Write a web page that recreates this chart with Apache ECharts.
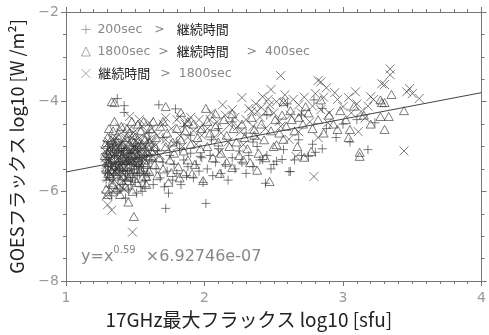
<!DOCTYPE html>
<html>
<head>
<meta charset="utf-8">
<script src="https://cdn.jsdelivr.net/npm/echarts@6/dist/echarts.min.js"></script>
<style>
  html, body { margin: 0; padding: 0; background: #fff; }
  #chart { width: 489px; height: 335px; }
</style>
</head>
<body>
<div id="chart"></div>
<script>
// duration < 200 sec
var plusPts = [
  [1.37,-3.93],[1.42,-4.09],[1.42,-4.24],[1.67,-4.07],[1.79,-4.16],[1.51,-6.04],[1.72,-6.38],[1.74,-6.04],
  [2.01,-6.27],[2.44,-5.82],[2.62,-5.56],[3.18,-5.07],[2.79,-3.96],
  [1.29,-5.3],[1.30,-5.6],[1.31,-5.9],[1.32,-5.1],[1.33,-5.45],[1.34,-5.75],[1.35,-5.2],[1.36,-5.5],
  [1.37,-6.0],[1.38,-5.35],[1.39,-5.65],[1.40,-5.05],[1.41,-5.85],[1.42,-5.4],[1.43,-5.6],[1.44,-5.25],
  [1.45,-5.95],[1.46,-5.5],[1.47,-5.15],[1.48,-5.7],[1.49,-5.35],[1.50,-5.8],[1.51,-5.45],[1.52,-5.1],
  [1.53,-5.6],[1.54,-5.9],[1.55,-5.3],[1.56,-5.55],[1.57,-5.75],[1.58,-5.2],[1.59,-5.45],[1.60,-5.65],
  [1.30,-5.0],[1.33,-6.1],[1.36,-4.9],[1.39,-5.95],[1.43,-6.15],[1.47,-5.85],[1.50,-5.0],[1.55,-6.0],
  [1.29,-5.75],[1.31,-5.25],[1.34,-4.95],[1.38,-5.1],[1.41,-5.55],[1.45,-5.3],[1.49,-5.6],[1.53,-5.25],
  [1.285,-5.55],[1.295,-5.15],[1.305,-5.45],[1.315,-5.7],[1.325,-5.35],[1.335,-5.05],[1.345,-5.6],[1.355,-5.4],
  [1.365,-5.15],[1.375,-5.7],[1.385,-5.5],[1.395,-5.2],[1.405,-5.4],[1.415,-5.1],[1.425,-5.75],[1.435,-5.35],
  [1.445,-5.55],[1.455,-5.15],[1.465,-5.75],[1.475,-5.4],[1.485,-5.05],[1.495,-5.5],[1.505,-5.25],[1.515,-5.65],
  [1.525,-5.4],[1.535,-5.05],[1.545,-5.45],[1.565,-5.2],[1.585,-5.6],[1.605,-5.3],
  [1.57,-5.9],[1.62,-5.3],[1.63,-5.85],[1.65,-5.5],[1.66,-5.1],[1.68,-5.7],[1.70,-5.35],[1.71,-5.9],
  [1.73,-5.55],[1.75,-5.2],[1.77,-5.75],[1.78,-5.4],[1.80,-5.6],[1.82,-5.05],[1.83,-5.85],[1.85,-5.3],
  [1.87,-5.65],[1.88,-5.45],[1.90,-5.15],[1.92,-5.7],[1.94,-5.4],[1.96,-5.55],[1.98,-5.25],[1.99,-5.8],
  [1.70,-4.8],[1.80,-4.9],[1.90,-4.75],[1.85,-4.55],[1.60,-4.7],[1.97,-5.22],
  [2.02,-5.5],[2.04,-5.2],[2.06,-5.65],[2.08,-5.35],[2.10,-5.05],[2.12,-5.6],[2.15,-5.4],[2.17,-5.75],
  [2.20,-5.25],[2.22,-5.5],[2.25,-5.1],[2.27,-5.35],[2.30,-5.6],[2.32,-5.2],[2.35,-5.45],[2.38,-5.0],
  [2.40,-5.3],[2.42,-5.29],[2.45,-5.2],[2.48,-5.5],[2.50,-5.4],[2.52,-5.33],[2.56,-5.29],[2.57,-5.07],
  [2.10,-4.6],[2.20,-4.45],[2.30,-4.7],[2.45,-4.3],[2.35,-4.9],[2.05,-4.85],
  [2.61,-5.56],[2.65,-5.3],[2.68,-4.85],[2.70,-5.2],[2.75,-5.22],[2.80,-5.13],[2.78,-4.95],[2.85,-5.05],
  [2.88,-4.6],[2.95,-4.8],[3.00,-4.5],[3.05,-4.9],[3.10,-4.4],[3.23,-4.47],[2.70,-4.3],[2.85,-4.15],[2.60,-4.05]
];

// 400 sec < duration < 1800 sec
var triPts = [
  [1.33,-4.0],[1.35,-4.02],[1.72,-4.11],[1.30,-6.07],[1.39,-6.07],[1.45,-6.24],[1.49,-6.56],[1.99,-5.76],
  [2.47,-5.78],[3.12,-5.13],[3.12,-5.22],[3.35,-3.84],[3.27,-3.96],[3.28,-4.02],[3.30,-4.02],[3.44,-4.2],
  [3.27,-4.33],[3.33,-4.33],[3.30,-4.62],[2.84,-3.96],[2.57,-4.0],[2.73,-4.11],[2.63,-4.4],[2.96,-4.62],
  [3.04,-4.8],[3.05,-4.62],[2.50,-5.0],[2.67,-5.0],[2.77,-5.11],[2.72,-5.24],[2.36,-4.62],[2.52,-4.96],[2.57,-4.84],
  [1.35,-4.44],[1.475,-4.44],[1.56,-4.44],[1.63,-4.44],[1.70,-4.44],[1.88,-4.44],[2.02,-4.44],[1.83,-4.24],
  [2.01,-4.15],[2.08,-4.27],[2.20,-4.27],
  [2.20,-5.47],[2.38,-5.53],[2.33,-5.36],[2.11,-5.6],[1.85,-5.6],[1.76,-5.58],[1.58,-5.67],[1.45,-5.69],
  [1.28,-5.2],[1.29,-5.5],[1.30,-4.8],[1.31,-5.35],[1.32,-5.65],[1.33,-5.0],[1.34,-5.85],[1.35,-5.25],
  [1.36,-5.55],[1.37,-4.75],[1.38,-5.15],[1.39,-5.45],[1.40,-5.75],[1.41,-4.95],[1.42,-5.3],[1.43,-5.9],
  [1.44,-5.05],[1.45,-5.45],[1.46,-4.7],[1.47,-5.6],[1.48,-5.2],[1.49,-4.9],[1.50,-5.5],[1.51,-5.8],
  [1.52,-5.0],[1.53,-5.35],[1.54,-4.65],[1.55,-5.7],[1.56,-5.15],[1.57,-4.85],[1.58,-5.4],[1.59,-5.0],
  [1.60,-5.55],[1.61,-4.6],[1.29,-5.95],[1.31,-4.6],[1.34,-4.65],[1.36,-5.95],[1.40,-4.55],[1.44,-4.6],
  [1.48,-6.0],[1.52,-4.5],[1.30,-5.15],[1.33,-5.55],[1.37,-5.35],[1.41,-5.65],[1.46,-5.25],[1.50,-5.15],
  [1.54,-5.5],[1.58,-5.85],
  [1.285,-4.95],[1.295,-5.35],[1.305,-5.6],[1.315,-5.1],[1.325,-4.85],[1.335,-5.3],[1.345,-5.45],[1.355,-5.05],
  [1.365,-4.9],[1.375,-5.5],[1.385,-5.3],[1.395,-5.0],[1.405,-5.25],[1.415,-5.45],[1.425,-5.1],[1.435,-4.8],
  [1.445,-5.3],[1.455,-5.55],[1.465,-5.0],[1.475,-5.3],[1.485,-4.75],[1.495,-5.05],[1.505,-5.35],[1.515,-4.85],
  [1.525,-5.25],[1.535,-5.55],[1.545,-4.95],[1.565,-5.3],[1.585,-5.1],[1.605,-4.9],[1.625,-5.25],[1.645,-5.0],
  [1.62,-5.1],[1.64,-5.4],[1.65,-4.8],[1.67,-5.25],[1.68,-4.55],[1.70,-5.5],[1.72,-5.0],[1.73,-4.7],
  [1.75,-5.3],[1.77,-4.9],[1.78,-5.15],[1.80,-4.6],[1.81,-5.45],[1.83,-4.85],[1.85,-5.1],[1.86,-4.65],
  [1.88,-5.3],[1.90,-4.95],[1.92,-4.5],[1.93,-5.4],[1.95,-4.8],[1.97,-5.05],[1.98,-4.6],[1.66,-5.65],
  [1.74,-5.8],[1.82,-5.7],[1.91,-5.6],
  [2.02,-5.0],[2.04,-4.7],[2.06,-5.25],[2.08,-4.55],[2.10,-4.9],[2.12,-5.15],[2.14,-4.4],[2.16,-4.75],
  [2.18,-5.0],[2.21,-4.6],[2.23,-4.9],[2.25,-5.2],[2.27,-4.5],[2.29,-4.8],[2.31,-5.05],[2.34,-4.35],
  [2.36,-4.75],[2.39,-5.15],[2.41,-4.5],[2.43,-4.85],[2.46,-4.2],[2.48,-4.65],[2.51,-4.4],[2.54,-4.7],
  [2.56,-4.3],[2.59,-4.55],[2.16,-5.35],[2.28,-5.3],[2.44,-5.25],
  [2.62,-4.2],[2.65,-4.65],[2.68,-4.35],[2.71,-4.5],[2.75,-4.25],[2.78,-4.6],[2.82,-4.4],[2.86,-4.7],
  [2.90,-4.3],[2.93,-4.5],[2.98,-4.2],[3.02,-4.4],[3.08,-4.1],[3.15,-4.3],[3.20,-4.5]
];

// duration > 1800 sec
var crossPts = [
  [1.33,-6.42],[1.48,-6.91],[2.79,-5.67],[3.44,-5.1],
  [2.27,-3.91],[2.13,-4.07],[2.20,-4.18],[2.34,-4.22],[2.41,-4.13],[2.47,-4.07],[2.18,-4.51],[2.26,-4.67],
  [2.04,-4.4],[1.97,-4.58],[2.54,-4.44],[2.38,-4.78],[2.11,-5.13],[2.28,-4.96],
  [2.38,-4.22],[2.42,-3.89],[2.48,-3.73],[2.55,-3.42],[2.57,-4.02],[2.68,-4.07],[2.82,-3.53],[2.84,-3.56],
  [2.80,-3.82],[2.88,-3.69],[2.94,-3.8],[2.84,-4.18],[2.89,-4.47],[3.00,-4.11],[3.04,-3.91],[3.09,-3.78],
  [3.13,-4.22],[3.16,-4.36],[3.11,-4.67],[2.82,-4.8],[2.68,-4.67],[2.61,-4.84],[2.66,-5.22],[3.20,-3.89],
  [3.34,-3.27],[3.34,-3.4],[3.28,-3.6],[3.30,-3.62],[3.48,-3.71],[3.50,-3.82],[3.55,-3.93],[3.46,-3.78],
  [1.46,-4.33],[1.53,-4.4],[1.60,-4.47],[1.72,-4.36],[1.82,-4.33],[1.88,-4.44],[1.39,-4.58],
  [1.28,-5.1],[1.29,-5.4],[1.30,-5.7],[1.31,-4.9],[1.32,-5.25],[1.33,-5.8],[1.34,-5.05],[1.35,-5.4],
  [1.36,-4.8],[1.37,-5.6],[1.38,-5.0],[1.39,-5.3],[1.40,-4.7],[1.41,-5.15],[1.42,-5.5],[1.43,-4.85],
  [1.44,-5.7],[1.45,-5.1],[1.46,-4.6],[1.47,-5.35],[1.48,-4.95],[1.49,-5.2],[1.50,-4.65],[1.51,-5.05],
  [1.52,-5.45],[1.53,-4.8],[1.54,-5.2],[1.55,-4.55],[1.56,-4.95],[1.57,-5.3],[1.58,-4.7],[1.59,-5.1],
  [1.60,-4.85],[1.29,-6.1],[1.31,-5.55],[1.34,-6.0],[1.38,-5.85],[1.42,-5.95],[1.30,-6.3],
  [1.285,-5.25],[1.295,-4.95],[1.305,-5.3],[1.315,-5.45],[1.325,-5.0],[1.335,-5.2],[1.345,-4.85],[1.355,-5.55],
  [1.365,-5.2],[1.375,-4.95],[1.385,-5.45],[1.395,-5.1],[1.405,-4.9],[1.415,-5.3],[1.425,-5.0],[1.435,-5.2],
  [1.445,-4.9],[1.455,-5.35],[1.465,-5.1],[1.475,-4.8],[1.485,-5.3],[1.495,-5.0],[1.505,-5.2],[1.515,-4.9],
  [1.525,-5.1],[1.545,-5.3],[1.565,-5.0],[1.585,-4.85],[1.605,-5.15],[1.625,-4.9],[1.645,-5.15],
  [1.62,-4.6],[1.64,-5.0],[1.66,-4.75],[1.68,-5.2],[1.70,-4.5],[1.72,-4.85],[1.74,-5.05],[1.76,-4.6],
  [1.78,-4.95],[1.80,-4.4],[1.82,-4.75],[1.84,-5.0],[1.86,-4.5],[1.88,-4.8],[1.90,-4.35],[1.92,-4.65],
  [1.94,-4.95],[1.96,-4.4],[1.98,-4.75],
  [2.02,-4.6],[2.05,-4.25],[2.07,-4.8],[2.09,-4.45],[2.12,-4.7],[2.15,-4.3],[2.17,-4.9],[2.22,-4.35],
  [2.24,-4.55],[2.30,-4.4],[2.32,-4.15],[2.35,-4.55],[2.37,-4.05],[2.40,-4.35],[2.44,-4.6],[2.46,-3.95],
  [2.50,-4.25],[2.52,-4.0],[2.55,-4.55],[2.58,-3.85],
  [2.62,-4.3],[2.64,-3.95],[2.70,-4.25],[2.72,-3.9],[2.76,-4.45],[2.78,-4.1],[2.86,-3.9],[2.90,-4.25],
  [2.96,-3.95],[3.06,-4.25],[3.10,-4.05],[3.18,-4.1],[3.22,-3.95]
];

// fit line y = x^0.59 * 6.92746e-07 (log10 space), end points at x = 1 and x = 4
var fitPts = [[1, -5.569], [4, -3.799]];

var seriesNames = ['200sec > 継続時間', '1800sec > 継続時間 > 400sec', '継続時間 > 1800sec'];
var legendText = {
  '200sec > 継続時間': '{g|200sec   >   }{k|継続時間}',
  '1800sec > 継続時間 > 400sec': '{g|1800sec  >  }{k|継続時間}{g|    >  400sec}',
  '継続時間 > 1800sec': '{k| 継続時間}{g|  >  1800sec}'
};

var plusPath = 'path://M5,0L5,10M0,5L10,5';
var crossPath = 'path://M0,0L10,10M10,0L0,10';
var markStyle = { color: 'transparent', borderColor: '#333', borderWidth: 0.8 };
var font = 'Noto Sans CJK JP';
var latin = 'DejaVu Sans';
var axisGrey = '#777';

var chart = echarts.init(document.getElementById('chart'));

// one side of the box: line plus major / minor ticks
function frameAxis(pos, min, max, step, minorSplit) {
  return {
    type: 'value', min: min, max: max, interval: step, position: pos,
    axisLine: { show: true, onZero: false, lineStyle: { color: axisGrey } },
    axisTick: { show: true, inside: false, length: 5, lineStyle: { color: axisGrey } },
    minorTick: { show: true, splitNumber: minorSplit, length: 3, lineStyle: { color: axisGrey } },
    splitLine: { show: false },
    axisLabel: { show: false }
  };
}

var bottomAxis = frameAxis('bottom', 1, 4, 1, 10);
bottomAxis.axisLabel = { show: true, color: '#999', fontSize: 14, margin: 10, fontFamily: latin };
bottomAxis.name = '17GHz最大フラックス log10 [sfu]';
bottomAxis.nameLocation = 'middle';
bottomAxis.nameGap = 28;
bottomAxis.nameTextStyle = { color: '#222', fontSize: 19, fontFamily: font, padding: [0, 50, 0, 0] };

var leftAxis = frameAxis('left', -8, -2, 2, 4);
leftAxis.axisLabel = {
  show: true, color: '#999', fontSize: 14, margin: 7, fontFamily: latin,
  formatter: function (v) { return String(v).replace('-', '−'); }
};
leftAxis.name = 'GOESフラックス log10 [W /m²]';
leftAxis.nameLocation = 'middle';
leftAxis.nameGap = 40;
leftAxis.nameTextStyle = { color: '#222', fontSize: 18, fontFamily: font };

var option = {
  animation: false,
  textStyle: { fontFamily: font },
  grid: { left: 60, right: 3, top: 12, bottom: 54 },
  legend: {
    orient: 'vertical',
    left: 76,
    top: 18,
    itemGap: 9,
    itemWidth: 9,
    itemHeight: 9,
    data: seriesNames,
    itemStyle: { color: 'transparent', borderColor: '#777', borderWidth: 0.8 },
    formatter: function (name) { return legendText[name]; },
    textStyle: {
      fontFamily: latin,
      fontSize: 13,
      rich: {
        g: { color: '#888', fontSize: 12.5, fontFamily: latin, padding: [0, 0, 0, 2] },
        k: { color: '#222', fontSize: 13, fontFamily: font }
      }
    }
  },
  title: {
    left: 76,
    top: 240,
    text: '{a|y=x}{s|0.59}{a|  ×6.92746e-07}',
    textStyle: {
      fontWeight: 'normal',
      rich: {
        a: { fontSize: 16, color: '#888', fontWeight: 'normal', fontFamily: latin, lineHeight: 24 },
        s: { fontSize: 10, color: '#888', fontWeight: 'normal', fontFamily: latin, verticalAlign: 'top' }
      }
    }
  },
  xAxis: [bottomAxis, frameAxis('top', 1, 4, 1, 10)],
  yAxis: [leftAxis, frameAxis('right', -8, -2, 2, 4)],
  series: [
    {
      name: seriesNames[0], type: 'scatter', data: plusPts,
      symbol: plusPath, symbolSize: 9, itemStyle: markStyle
    },
    {
      name: seriesNames[1], type: 'scatter', data: triPts,
      symbol: 'triangle', symbolSize: [9, 8], itemStyle: markStyle
    },
    {
      name: seriesNames[2], type: 'scatter', data: crossPts,
      symbol: crossPath, symbolSize: 9, itemStyle: markStyle
    },
    {
      name: 'fit', type: 'line', data: fitPts, showSymbol: false, symbol: 'none',
      lineStyle: { color: '#444', width: 1 }, silent: true
    }
  ]
};

chart.setOption(option);
</script>
</body>
</html>
